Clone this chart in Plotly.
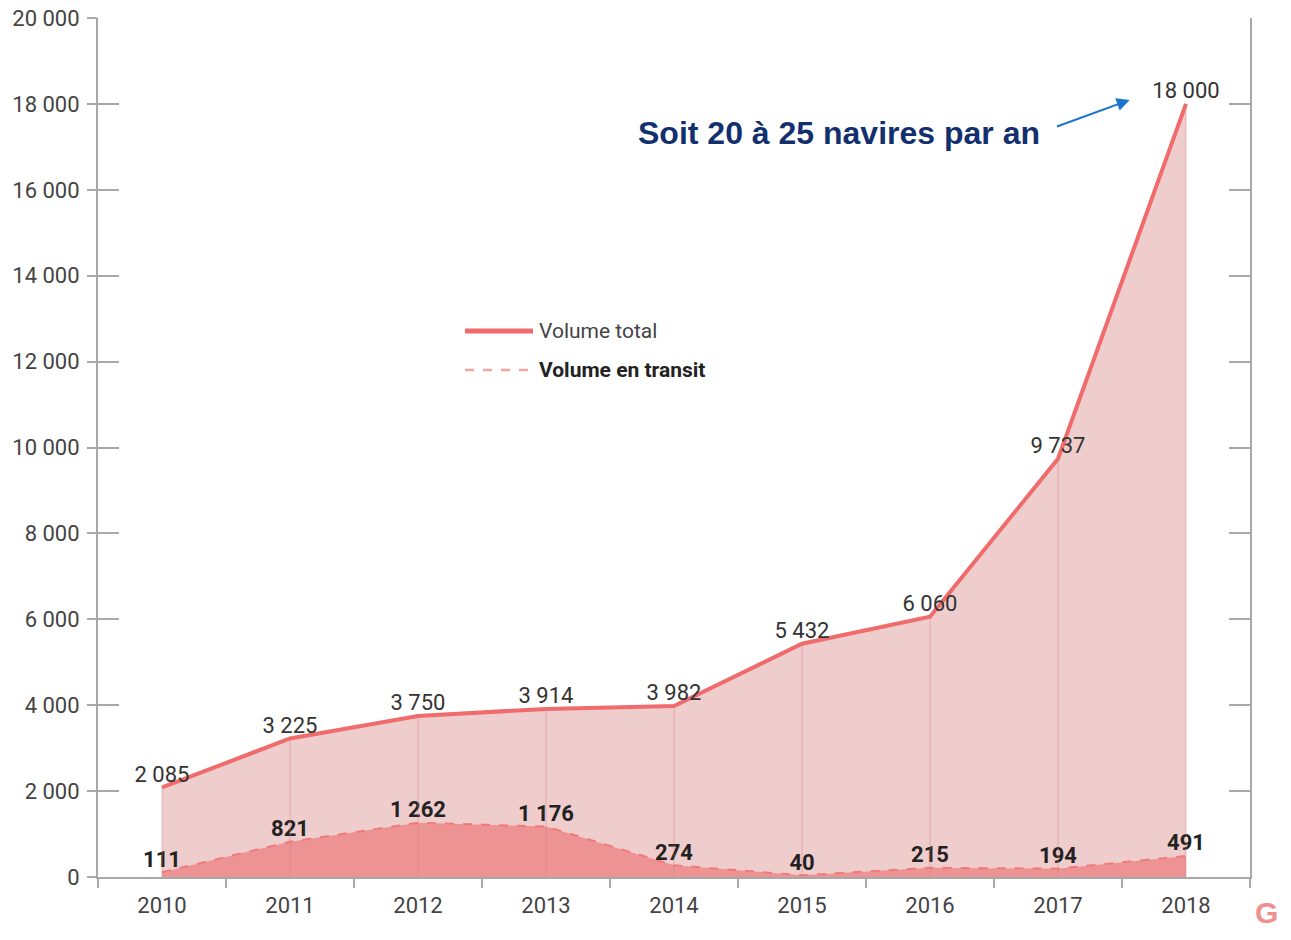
import plotly.graph_objects as go

years = [2010, 2011, 2012, 2013, 2014, 2015, 2016, 2017, 2018]
volume_total = [2085, 3225, 3750, 3914, 3982, 5432, 6060, 9737, 18000]
volume_transit = [111, 821, 1262, 1176, 274, 40, 215, 194, 491]
y_ticks = [0, 2000, 4000, 6000, 8000, 10000, 12000, 14000, 16000, 18000, 20000]
legend_labels = ["Volume total", "<b>Volume en transit</b>"]

FONT = "Roboto"
fig = go.Figure()

fig.add_trace(go.Scatter(
    x=years, y=volume_total, mode="lines+text", name="Volume total", showlegend=False,
    line=dict(color="#f06b6b", width=4), fill="tozeroy", fillcolor="#f0cdcd",
    text=volume_total, texttemplate="%{y:,}", textposition="top center",
    textfont=dict(family=FONT, size=22, color="#333333"),
))

fig.add_trace(go.Scatter(
    x=years, y=volume_transit, mode="lines+text", name="Volume en transit", showlegend=False,
    line=dict(color="#f07a7a", width=2, dash="dash"), fill="tozeroy", fillcolor="#ee9393",
    text=volume_transit, texttemplate="<b>%{y:,}</b>", textposition="top center",
    textfont=dict(family=FONT, size=22, color="#222222"),
))

# vertical drop lines from 0 to each total value
dx, dy = [], []
for x, y in zip(years, volume_total):
    dx += [x, x, None]
    dy += [0, y, None]
fig.add_trace(go.Scatter(x=dx, y=dy, mode="lines", showlegend=False, hoverinfo="skip",
                         line=dict(color="rgba(205,120,120,0.45)", width=1)))

axis_col = "#a8a8a8"
fig.update_layout(
    width=1291, height=940,
    margin=dict(l=98, r=41, t=18, b=63, autoexpand=False),
    paper_bgcolor="white", plot_bgcolor="white",
    separators=", ",
    font=dict(family=FONT, size=22, color="#444444"),
    showlegend=False,
    xaxis=dict(range=[2009.5, 2018.5], tickmode="array", tickvals=years,
               ticktext=[str(y) for y in years], ticks="", showgrid=False, zeroline=False,
               showline=True, linecolor=axis_col, linewidth=2, automargin=False,
               ticklabelstandoff=8, ticklabeloverflow="allow",
               tickfont=dict(family=FONT, size=22, color="#444444"),
               minor=dict(ticks="outside", tick0=2009.5, dtick=1, ticklen=9,
                          tickcolor=axis_col, tickwidth=2, showgrid=False)),
    yaxis=dict(range=[0, 20000], tickmode="array", tickvals=y_ticks,
               tickformat=",", ticks="inside", ticklen=21, tickwidth=2, tickcolor=axis_col,
               showgrid=False, zeroline=False, showline=True, mirror="ticks",
               linecolor=axis_col, linewidth=2, ticklabelstandoff=12, automargin=False,
               ticklabeloverflow="allow",
               tickfont=dict(family=FONT, size=22, color="#444444")),
    yaxis2=dict(range=[0, 20000], overlaying="y", side="left", tickmode="array",
                tickvals=y_ticks, ticks="outside", ticklen=10, tickwidth=2, tickcolor=axis_col,
                showticklabels=False, showgrid=False, zeroline=False, showline=False,
                automargin=False),
)

# invisible trace to activate yaxis2
fig.add_trace(go.Scatter(x=[years[0]], y=[0], yaxis="y2", mode="markers",
                         marker=dict(opacity=0), showlegend=False, hoverinfo="skip"))

# custom legend (line samples + labels)
fig.add_shape(type="line", xref="paper", yref="paper", x0=0.3186, x1=0.3776, y0=0.6356, y1=0.6356,
              line=dict(color="#f06b6b", width=5))
fig.add_shape(type="line", xref="paper", yref="paper", x0=0.3186, x1=0.3776, y0=0.5902, y1=0.5902,
              line=dict(color="#f5a3a3", width=2.5, dash="dash"))
fig.add_annotation(x=0.381, y=0.6356, xref="paper", yref="paper", xanchor="left", yanchor="middle",
                   text=legend_labels[0], showarrow=False,
                   font=dict(family=FONT, size=21, color="#444444"))
fig.add_annotation(x=0.381, y=0.5902, xref="paper", yref="paper", xanchor="left", yanchor="middle",
                   text=legend_labels[1], showarrow=False,
                   font=dict(family=FONT, size=21, color="#222222"))

fig.add_annotation(x=2017.56, y=18091, ax=2016.98, ay=17462, xref="x", yref="y",
                   axref="x", ayref="y", text="", showarrow=True, arrowhead=2,
                   arrowsize=1.3, arrowwidth=2, arrowcolor="#1874cd")
fig.add_annotation(x=2016.875, y=17322, xref="x", yref="y", xanchor="right", yanchor="middle",
                   text="<b>Soit 20 à 25 navires par an</b>", showarrow=False,
                   font=dict(family="Liberation Sans", size=32, color="#13306e"))
fig.add_annotation(x=1.003, y=-0.02, xref="paper", yref="paper", xanchor="left", yanchor="top",
                   text="<b>G</b>", showarrow=False,
                   font=dict(family="Liberation Sans", size=30, color="#ee9090"))

fig.write_html("out.html", config={"displayModeBar": False},
               post_script="document.body.style.margin='0px';document.body.style.overflow='hidden';")
